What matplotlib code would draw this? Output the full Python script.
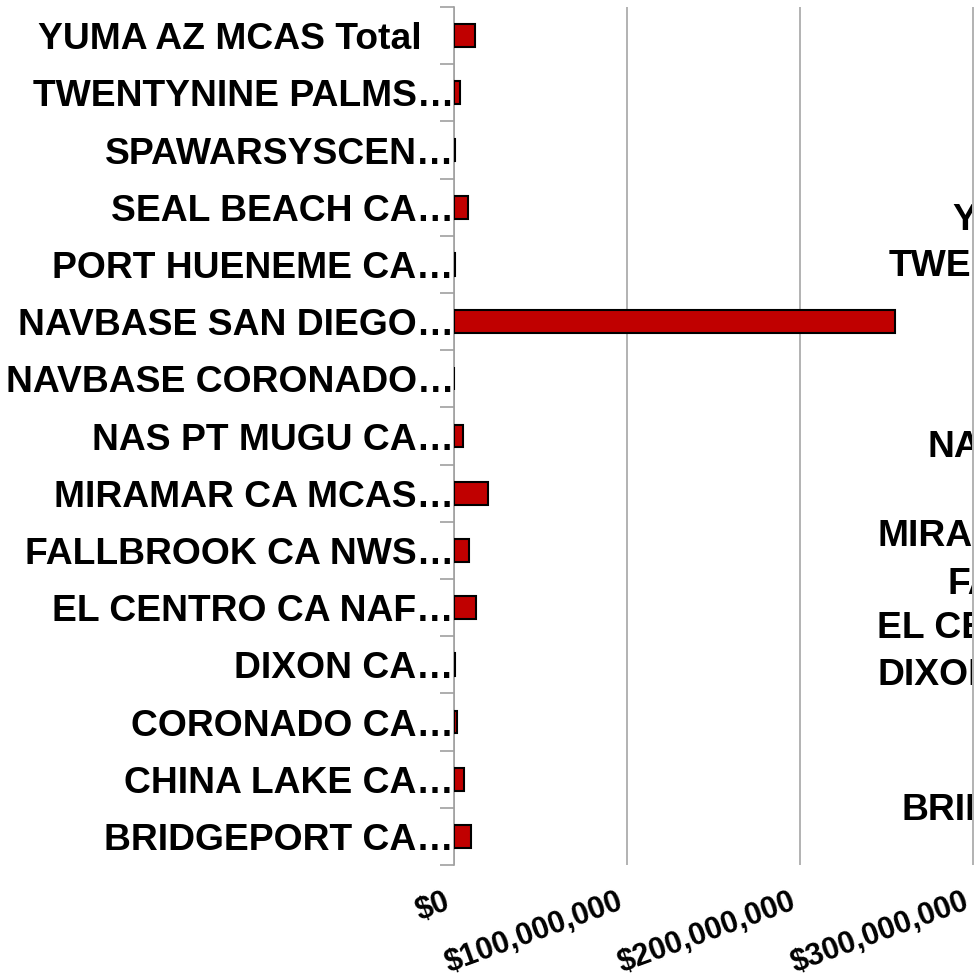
import matplotlib
matplotlib.use("Agg")
import matplotlib.pyplot as plt
import matplotlib.transforms as mtransforms
from matplotlib.patches import Rectangle
from matplotlib.ticker import FuncFormatter, MultipleLocator
import numpy as np

plt.rcParams["font.family"] = ["Liberation Sans", "DejaVu Sans"]

categories = [
    "YUMA AZ MCAS Total",
    "TWENTYNINE PALMS…",
    "SPAWARSYSCEN…",
    "SEAL BEACH CA…",
    "PORT HUENEME CA…",
    "NAVBASE SAN DIEGO…",
    "NAVBASE CORONADO…",
    "NAS PT MUGU CA…",
    "MIRAMAR CA MCAS…",
    "FALLBROOK CA NWS…",
    "EL CENTRO CA NAF…",
    "DIXON CA…",
    "CORONADO CA…",
    "CHINA LAKE CA…",
    "BRIDGEPORT CA…",
]
values = [12.1e6, 3.6e6, 0.5e6, 8.0e6, 0.6e6, 255.0e6, 0.2e6, 5.3e6,
          19.8e6, 8.8e6, 12.8e6, 0.4e6, 1.8e6, 6.0e6, 10.0e6]

# labels of a neighbouring chart, cut off at the right edge
ghost_labels = ["Y", "TWE", "NA", "MIRA", "FA", "EL CE", "DIXON", "BRID"]
ghost_x = [952, 889, 928, 878, 947, 877, 877, 902]
ghost_y = [220, 266, 447, 537, 584, 628, 675, 810]

W, H = 974, 980
fig = plt.figure(figsize=(W / 100, H / 100), dpi=100)
left, right, top, bottom = 454, 974, 7, 865
ax = fig.add_axes([left / W, 1 - bottom / H, (right - left) / W, (bottom - top) / H])

y = np.arange(len(categories))
ax.barh(y, values, height=0.4, color="#C00000", edgecolor="black", linewidth=1.5, zorder=3)
ax.set_ylim(len(categories) - 0.5, -0.5)
ax.set_xlim(0, 300e6 * (right - left) / (972.5 - left))

ax.set_yticks(y)
ax.set_yticklabels(categories, fontsize=26.8, fontweight="bold")
ax.set_yticks(np.arange(len(categories) + 1) - 0.5, minor=True)
ax.tick_params(axis="y", which="major", length=0, pad=0)
ax.tick_params(axis="y", which="minor", length=10, width=1.2, color="#A0A0A0")

# the untruncated label sits further from the axis
lab0 = ax.get_yticklabels()[0]
lab0.set_transform(lab0.get_transform() + mtransforms.ScaledTranslation(-0.32, 0, fig.dpi_scale_trans))

ax.xaxis.set_major_locator(MultipleLocator(100e6))
ax.xaxis.set_major_formatter(FuncFormatter(lambda v, p: "${:,.0f}".format(v)))
ax.tick_params(axis="x", length=0, pad=16)
for lab in ax.get_xticklabels():
    lab.set_fontsize(22)
    lab.set_fontweight("bold")
    lab.set_rotation(20)
    lab.set_ha("right")
    lab.set_va("top")

ax.grid(axis="x", color="#A6A6A6", linewidth=1.2, zorder=0)
for s in ["top", "right", "bottom"]:
    ax.spines[s].set_visible(False)
ax.spines["left"].set_color("#A0A0A0")
ax.spines["left"].set_linewidth(1.2)

clip = Rectangle((0, 0), 972 / W, 1, transform=fig.transFigure)
for t, gx, gy in zip(ghost_labels, ghost_x, ghost_y):
    txt = fig.text(gx / W, 1 - gy / H, t, fontsize=26.8, fontweight="bold", ha="left", va="center")
    txt.set_clip_path(clip)

fig.savefig("out.png", dpi=100)
